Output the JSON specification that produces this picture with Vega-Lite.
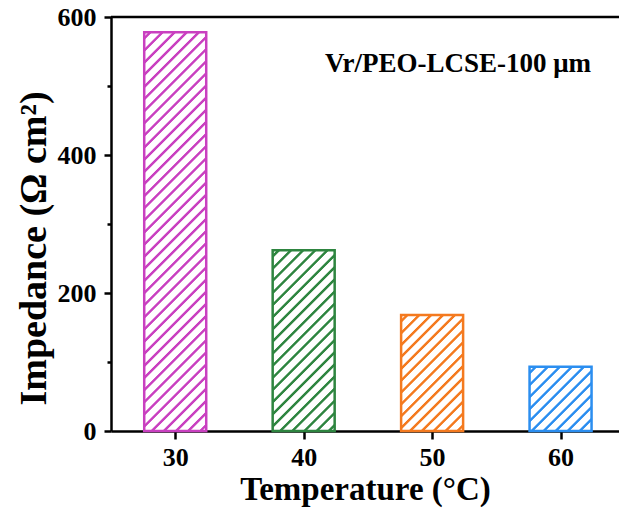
{
  "$schema": "https://vega.github.io/schema/vega-lite/v6.json",
  "width": 508,
  "height": 414,
  "autosize": "none",
  "padding": {"left": 111, "top": 17, "right": 0, "bottom": 84},
  "background": "white",
  "config": {"view": {"stroke": null}, "font": "Liberation Serif"},
  "data": {"values": [
    {"temp": 30, "impedance": 578},
    {"temp": 40, "impedance": 262},
    {"temp": 50, "impedance": 168},
    {"temp": 60, "impedance": 93}
  ]},
  "layer": [
    {
      "transform": [{"filter": "datum.temp == 30"}],
      "mark": {"type": "bar", "orient": "vertical", "width": 62, "stroke": "#C940C0", "strokeWidth": 2.5,
        "fill": {"gradient": "linear", "x1": 0, "y1": 0, "x2": 0.17539, "y2": 1.12818, "stops": [
          {"offset": 0.0085, "color": "#ffffff"}, {"offset": 0.0110, "color": "#C940C0"}, {"offset": 0.0160, "color": "#C940C0"}, {"offset": 0.0185, "color": "#ffffff"},
          {"offset": 0.0348, "color": "#ffffff"}, {"offset": 0.0373, "color": "#C940C0"}, {"offset": 0.0423, "color": "#C940C0"}, {"offset": 0.0448, "color": "#ffffff"},
          {"offset": 0.0611, "color": "#ffffff"}, {"offset": 0.0636, "color": "#C940C0"}, {"offset": 0.0686, "color": "#C940C0"}, {"offset": 0.0711, "color": "#ffffff"},
          {"offset": 0.0874, "color": "#ffffff"}, {"offset": 0.0899, "color": "#C940C0"}, {"offset": 0.0949, "color": "#C940C0"}, {"offset": 0.0974, "color": "#ffffff"},
          {"offset": 0.1138, "color": "#ffffff"}, {"offset": 0.1163, "color": "#C940C0"}, {"offset": 0.1213, "color": "#C940C0"}, {"offset": 0.1238, "color": "#ffffff"},
          {"offset": 0.1401, "color": "#ffffff"}, {"offset": 0.1426, "color": "#C940C0"}, {"offset": 0.1476, "color": "#C940C0"}, {"offset": 0.1501, "color": "#ffffff"},
          {"offset": 0.1664, "color": "#ffffff"}, {"offset": 0.1689, "color": "#C940C0"}, {"offset": 0.1739, "color": "#C940C0"}, {"offset": 0.1764, "color": "#ffffff"},
          {"offset": 0.1927, "color": "#ffffff"}, {"offset": 0.1952, "color": "#C940C0"}, {"offset": 0.2002, "color": "#C940C0"}, {"offset": 0.2027, "color": "#ffffff"},
          {"offset": 0.2190, "color": "#ffffff"}, {"offset": 0.2215, "color": "#C940C0"}, {"offset": 0.2265, "color": "#C940C0"}, {"offset": 0.2290, "color": "#ffffff"},
          {"offset": 0.2453, "color": "#ffffff"}, {"offset": 0.2478, "color": "#C940C0"}, {"offset": 0.2528, "color": "#C940C0"}, {"offset": 0.2553, "color": "#ffffff"},
          {"offset": 0.2717, "color": "#ffffff"}, {"offset": 0.2742, "color": "#C940C0"}, {"offset": 0.2792, "color": "#C940C0"}, {"offset": 0.2817, "color": "#ffffff"},
          {"offset": 0.2980, "color": "#ffffff"}, {"offset": 0.3005, "color": "#C940C0"}, {"offset": 0.3055, "color": "#C940C0"}, {"offset": 0.3080, "color": "#ffffff"},
          {"offset": 0.3243, "color": "#ffffff"}, {"offset": 0.3268, "color": "#C940C0"}, {"offset": 0.3318, "color": "#C940C0"}, {"offset": 0.3343, "color": "#ffffff"},
          {"offset": 0.3506, "color": "#ffffff"}, {"offset": 0.3531, "color": "#C940C0"}, {"offset": 0.3581, "color": "#C940C0"}, {"offset": 0.3606, "color": "#ffffff"},
          {"offset": 0.3769, "color": "#ffffff"}, {"offset": 0.3794, "color": "#C940C0"}, {"offset": 0.3844, "color": "#C940C0"}, {"offset": 0.3869, "color": "#ffffff"},
          {"offset": 0.4032, "color": "#ffffff"}, {"offset": 0.4057, "color": "#C940C0"}, {"offset": 0.4107, "color": "#C940C0"}, {"offset": 0.4132, "color": "#ffffff"},
          {"offset": 0.4296, "color": "#ffffff"}, {"offset": 0.4321, "color": "#C940C0"}, {"offset": 0.4371, "color": "#C940C0"}, {"offset": 0.4396, "color": "#ffffff"},
          {"offset": 0.4559, "color": "#ffffff"}, {"offset": 0.4584, "color": "#C940C0"}, {"offset": 0.4634, "color": "#C940C0"}, {"offset": 0.4659, "color": "#ffffff"},
          {"offset": 0.4822, "color": "#ffffff"}, {"offset": 0.4847, "color": "#C940C0"}, {"offset": 0.4897, "color": "#C940C0"}, {"offset": 0.4922, "color": "#ffffff"},
          {"offset": 0.5085, "color": "#ffffff"}, {"offset": 0.5110, "color": "#C940C0"}, {"offset": 0.5160, "color": "#C940C0"}, {"offset": 0.5185, "color": "#ffffff"},
          {"offset": 0.5348, "color": "#ffffff"}, {"offset": 0.5373, "color": "#C940C0"}, {"offset": 0.5423, "color": "#C940C0"}, {"offset": 0.5448, "color": "#ffffff"},
          {"offset": 0.5611, "color": "#ffffff"}, {"offset": 0.5636, "color": "#C940C0"}, {"offset": 0.5686, "color": "#C940C0"}, {"offset": 0.5711, "color": "#ffffff"},
          {"offset": 0.5874, "color": "#ffffff"}, {"offset": 0.5899, "color": "#C940C0"}, {"offset": 0.5949, "color": "#C940C0"}, {"offset": 0.5974, "color": "#ffffff"},
          {"offset": 0.6138, "color": "#ffffff"}, {"offset": 0.6163, "color": "#C940C0"}, {"offset": 0.6213, "color": "#C940C0"}, {"offset": 0.6238, "color": "#ffffff"},
          {"offset": 0.6401, "color": "#ffffff"}, {"offset": 0.6426, "color": "#C940C0"}, {"offset": 0.6476, "color": "#C940C0"}, {"offset": 0.6501, "color": "#ffffff"},
          {"offset": 0.6664, "color": "#ffffff"}, {"offset": 0.6689, "color": "#C940C0"}, {"offset": 0.6739, "color": "#C940C0"}, {"offset": 0.6764, "color": "#ffffff"},
          {"offset": 0.6927, "color": "#ffffff"}, {"offset": 0.6952, "color": "#C940C0"}, {"offset": 0.7002, "color": "#C940C0"}, {"offset": 0.7027, "color": "#ffffff"},
          {"offset": 0.7190, "color": "#ffffff"}, {"offset": 0.7215, "color": "#C940C0"}, {"offset": 0.7265, "color": "#C940C0"}, {"offset": 0.7290, "color": "#ffffff"},
          {"offset": 0.7453, "color": "#ffffff"}, {"offset": 0.7478, "color": "#C940C0"}, {"offset": 0.7528, "color": "#C940C0"}, {"offset": 0.7553, "color": "#ffffff"},
          {"offset": 0.7717, "color": "#ffffff"}, {"offset": 0.7742, "color": "#C940C0"}, {"offset": 0.7792, "color": "#C940C0"}, {"offset": 0.7817, "color": "#ffffff"},
          {"offset": 0.7980, "color": "#ffffff"}, {"offset": 0.8005, "color": "#C940C0"}, {"offset": 0.8055, "color": "#C940C0"}, {"offset": 0.8080, "color": "#ffffff"},
          {"offset": 0.8243, "color": "#ffffff"}, {"offset": 0.8268, "color": "#C940C0"}, {"offset": 0.8318, "color": "#C940C0"}, {"offset": 0.8343, "color": "#ffffff"},
          {"offset": 0.8506, "color": "#ffffff"}, {"offset": 0.8531, "color": "#C940C0"}, {"offset": 0.8581, "color": "#C940C0"}, {"offset": 0.8606, "color": "#ffffff"},
          {"offset": 0.8769, "color": "#ffffff"}, {"offset": 0.8794, "color": "#C940C0"}, {"offset": 0.8844, "color": "#C940C0"}, {"offset": 0.8869, "color": "#ffffff"},
          {"offset": 0.9032, "color": "#ffffff"}, {"offset": 0.9057, "color": "#C940C0"}, {"offset": 0.9107, "color": "#C940C0"}, {"offset": 0.9132, "color": "#ffffff"},
          {"offset": 0.9296, "color": "#ffffff"}, {"offset": 0.9321, "color": "#C940C0"}, {"offset": 0.9371, "color": "#C940C0"}, {"offset": 0.9396, "color": "#ffffff"},
          {"offset": 0.9559, "color": "#ffffff"}, {"offset": 0.9584, "color": "#C940C0"}, {"offset": 0.9634, "color": "#C940C0"}, {"offset": 0.9659, "color": "#ffffff"},
          {"offset": 0.9822, "color": "#ffffff"}, {"offset": 0.9847, "color": "#C940C0"}, {"offset": 0.9897, "color": "#C940C0"}, {"offset": 0.9922, "color": "#ffffff"}
        ]}},
      "encoding": {
        "x": {"field": "temp", "type": "quantitative",
          "scale": {"domain": [25, 64.55], "nice": false, "zero": false, "padding": 0},
          "axis": {"values": [30, 40, 50, 60], "title": "Temperature (°C)", "grid": false,
            "domainColor": "black", "domainWidth": 2.5, "tickColor": "black", "tickWidth": 2.5, "tickSize": 8,
            "labelFont": "Liberation Serif", "labelFontSize": 26, "labelFontWeight": "bold", "labelColor": "black",
            "labelPadding": 5, "labelFlush": false, "labelOverlap": false,
            "titleFont": "Liberation Serif", "titleFontSize": 33, "titleFontWeight": "bold", "titleColor": "black",
            "titleY": 68, "titleBaseline": "alphabetic"}},
        "y": {"field": "impedance", "type": "quantitative",
          "scale": {"domain": [0, 600], "nice": false},
          "axis": {"values": [0, 100, 200, 300, 400, 500, 600], "title": "Impedance (Ω cm²)", "grid": false,
            "labelExpr": "datum.value % 200 === 0 ? datum.label : ''",
            "domainColor": "black", "domainWidth": 2.5, "tickColor": "black", "tickWidth": 2.5,
            "tickSize": {"condition": {"test": "datum.value % 200 === 0", "value": 7}, "value": 4},
            "labelFont": "Liberation Serif", "labelFontSize": 26, "labelFontWeight": "bold", "labelColor": "black",
            "labelPadding": 8, "labelOverlap": false, "labelFlush": false,
            "titleFont": "Liberation Serif", "titleFontSize": 38, "titleFontWeight": "bold", "titleColor": "black",
            "titleX": -66, "titleY": 231, "titleAlign": "center", "titleBaseline": "alphabetic", "titleAngle": -90}}
      }
    },
    {
      "transform": [{"filter": "datum.temp == 40"}],
      "mark": {"type": "bar", "orient": "vertical", "width": 62, "stroke": "#2E8540", "strokeWidth": 2.5,
        "fill": {"gradient": "linear", "x1": 0, "y1": 0, "x2": 0.41211, "y2": 1.20163, "stops": [
          {"offset": 0.0161, "color": "#ffffff"}, {"offset": 0.0209, "color": "#2E8540"}, {"offset": 0.0304, "color": "#2E8540"}, {"offset": 0.0351, "color": "#ffffff"},
          {"offset": 0.0661, "color": "#ffffff"}, {"offset": 0.0709, "color": "#2E8540"}, {"offset": 0.0804, "color": "#2E8540"}, {"offset": 0.0851, "color": "#ffffff"},
          {"offset": 0.1161, "color": "#ffffff"}, {"offset": 0.1209, "color": "#2E8540"}, {"offset": 0.1304, "color": "#2E8540"}, {"offset": 0.1351, "color": "#ffffff"},
          {"offset": 0.1661, "color": "#ffffff"}, {"offset": 0.1709, "color": "#2E8540"}, {"offset": 0.1804, "color": "#2E8540"}, {"offset": 0.1851, "color": "#ffffff"},
          {"offset": 0.2161, "color": "#ffffff"}, {"offset": 0.2209, "color": "#2E8540"}, {"offset": 0.2304, "color": "#2E8540"}, {"offset": 0.2351, "color": "#ffffff"},
          {"offset": 0.2661, "color": "#ffffff"}, {"offset": 0.2709, "color": "#2E8540"}, {"offset": 0.2804, "color": "#2E8540"}, {"offset": 0.2851, "color": "#ffffff"},
          {"offset": 0.3161, "color": "#ffffff"}, {"offset": 0.3209, "color": "#2E8540"}, {"offset": 0.3304, "color": "#2E8540"}, {"offset": 0.3351, "color": "#ffffff"},
          {"offset": 0.3661, "color": "#ffffff"}, {"offset": 0.3709, "color": "#2E8540"}, {"offset": 0.3804, "color": "#2E8540"}, {"offset": 0.3851, "color": "#ffffff"},
          {"offset": 0.4161, "color": "#ffffff"}, {"offset": 0.4209, "color": "#2E8540"}, {"offset": 0.4304, "color": "#2E8540"}, {"offset": 0.4351, "color": "#ffffff"},
          {"offset": 0.4661, "color": "#ffffff"}, {"offset": 0.4709, "color": "#2E8540"}, {"offset": 0.4804, "color": "#2E8540"}, {"offset": 0.4851, "color": "#ffffff"},
          {"offset": 0.5161, "color": "#ffffff"}, {"offset": 0.5209, "color": "#2E8540"}, {"offset": 0.5304, "color": "#2E8540"}, {"offset": 0.5351, "color": "#ffffff"},
          {"offset": 0.5661, "color": "#ffffff"}, {"offset": 0.5709, "color": "#2E8540"}, {"offset": 0.5804, "color": "#2E8540"}, {"offset": 0.5851, "color": "#ffffff"},
          {"offset": 0.6161, "color": "#ffffff"}, {"offset": 0.6209, "color": "#2E8540"}, {"offset": 0.6304, "color": "#2E8540"}, {"offset": 0.6351, "color": "#ffffff"},
          {"offset": 0.6661, "color": "#ffffff"}, {"offset": 0.6709, "color": "#2E8540"}, {"offset": 0.6804, "color": "#2E8540"}, {"offset": 0.6851, "color": "#ffffff"},
          {"offset": 0.7161, "color": "#ffffff"}, {"offset": 0.7209, "color": "#2E8540"}, {"offset": 0.7304, "color": "#2E8540"}, {"offset": 0.7351, "color": "#ffffff"},
          {"offset": 0.7661, "color": "#ffffff"}, {"offset": 0.7709, "color": "#2E8540"}, {"offset": 0.7804, "color": "#2E8540"}, {"offset": 0.7851, "color": "#ffffff"},
          {"offset": 0.8161, "color": "#ffffff"}, {"offset": 0.8209, "color": "#2E8540"}, {"offset": 0.8304, "color": "#2E8540"}, {"offset": 0.8351, "color": "#ffffff"},
          {"offset": 0.8661, "color": "#ffffff"}, {"offset": 0.8709, "color": "#2E8540"}, {"offset": 0.8804, "color": "#2E8540"}, {"offset": 0.8851, "color": "#ffffff"},
          {"offset": 0.9161, "color": "#ffffff"}, {"offset": 0.9209, "color": "#2E8540"}, {"offset": 0.9304, "color": "#2E8540"}, {"offset": 0.9351, "color": "#ffffff"},
          {"offset": 0.9661, "color": "#ffffff"}, {"offset": 0.9709, "color": "#2E8540"}, {"offset": 0.9804, "color": "#2E8540"}, {"offset": 0.9851, "color": "#ffffff"}
        ]}},
      "encoding": {
        "x": {"field": "temp", "type": "quantitative"},
        "y": {"field": "impedance", "type": "quantitative"}
      }
    },
    {
      "transform": [{"filter": "datum.temp == 50"}],
      "mark": {"type": "bar", "orient": "vertical", "width": 62, "stroke": "#F47A1F", "strokeWidth": 2.5,
        "fill": {"gradient": "linear", "x1": 0, "y1": 0, "x2": 0.63831, "y2": 1.19342, "stops": [
          {"offset": 0.0220, "color": "#ffffff"}, {"offset": 0.0285, "color": "#F47A1F"}, {"offset": 0.0414, "color": "#F47A1F"}, {"offset": 0.0479, "color": "#ffffff"},
          {"offset": 0.0887, "color": "#ffffff"}, {"offset": 0.0951, "color": "#F47A1F"}, {"offset": 0.1081, "color": "#F47A1F"}, {"offset": 0.1146, "color": "#ffffff"},
          {"offset": 0.1554, "color": "#ffffff"}, {"offset": 0.1618, "color": "#F47A1F"}, {"offset": 0.1747, "color": "#F47A1F"}, {"offset": 0.1813, "color": "#ffffff"},
          {"offset": 0.2220, "color": "#ffffff"}, {"offset": 0.2285, "color": "#F47A1F"}, {"offset": 0.2414, "color": "#F47A1F"}, {"offset": 0.2479, "color": "#ffffff"},
          {"offset": 0.2887, "color": "#ffffff"}, {"offset": 0.2951, "color": "#F47A1F"}, {"offset": 0.3081, "color": "#F47A1F"}, {"offset": 0.3146, "color": "#ffffff"},
          {"offset": 0.3554, "color": "#ffffff"}, {"offset": 0.3618, "color": "#F47A1F"}, {"offset": 0.3747, "color": "#F47A1F"}, {"offset": 0.3813, "color": "#ffffff"},
          {"offset": 0.4220, "color": "#ffffff"}, {"offset": 0.4285, "color": "#F47A1F"}, {"offset": 0.4414, "color": "#F47A1F"}, {"offset": 0.4479, "color": "#ffffff"},
          {"offset": 0.4887, "color": "#ffffff"}, {"offset": 0.4951, "color": "#F47A1F"}, {"offset": 0.5081, "color": "#F47A1F"}, {"offset": 0.5146, "color": "#ffffff"},
          {"offset": 0.5554, "color": "#ffffff"}, {"offset": 0.5618, "color": "#F47A1F"}, {"offset": 0.5747, "color": "#F47A1F"}, {"offset": 0.5813, "color": "#ffffff"},
          {"offset": 0.6220, "color": "#ffffff"}, {"offset": 0.6285, "color": "#F47A1F"}, {"offset": 0.6414, "color": "#F47A1F"}, {"offset": 0.6479, "color": "#ffffff"},
          {"offset": 0.6887, "color": "#ffffff"}, {"offset": 0.6951, "color": "#F47A1F"}, {"offset": 0.7081, "color": "#F47A1F"}, {"offset": 0.7146, "color": "#ffffff"},
          {"offset": 0.7554, "color": "#ffffff"}, {"offset": 0.7618, "color": "#F47A1F"}, {"offset": 0.7747, "color": "#F47A1F"}, {"offset": 0.7813, "color": "#ffffff"},
          {"offset": 0.8220, "color": "#ffffff"}, {"offset": 0.8285, "color": "#F47A1F"}, {"offset": 0.8414, "color": "#F47A1F"}, {"offset": 0.8479, "color": "#ffffff"},
          {"offset": 0.8887, "color": "#ffffff"}, {"offset": 0.8951, "color": "#F47A1F"}, {"offset": 0.9081, "color": "#F47A1F"}, {"offset": 0.9146, "color": "#ffffff"},
          {"offset": 0.9554, "color": "#ffffff"}, {"offset": 0.9618, "color": "#F47A1F"}, {"offset": 0.9747, "color": "#F47A1F"}, {"offset": 0.9813, "color": "#ffffff"}
        ]}},
      "encoding": {
        "x": {"field": "temp", "type": "quantitative"},
        "y": {"field": "impedance", "type": "quantitative"}
      }
    },
    {
      "transform": [{"filter": "datum.temp == 60"}],
      "mark": {"type": "bar", "orient": "vertical", "width": 62, "stroke": "#2B8EF0", "strokeWidth": 2.5,
        "fill": {"gradient": "linear", "x1": 0, "y1": 0, "x2": 0.98251, "y2": 1.0169, "stops": [
          {"offset": 0.0311, "color": "#ffffff"}, {"offset": 0.0401, "color": "#2B8EF0"}, {"offset": 0.0584, "color": "#2B8EF0"}, {"offset": 0.0676, "color": "#ffffff"},
          {"offset": 0.1263, "color": "#ffffff"}, {"offset": 0.1354, "color": "#2B8EF0"}, {"offset": 0.1536, "color": "#2B8EF0"}, {"offset": 0.1628, "color": "#ffffff"},
          {"offset": 0.2215, "color": "#ffffff"}, {"offset": 0.2306, "color": "#2B8EF0"}, {"offset": 0.2489, "color": "#2B8EF0"}, {"offset": 0.2581, "color": "#ffffff"},
          {"offset": 0.3168, "color": "#ffffff"}, {"offset": 0.3258, "color": "#2B8EF0"}, {"offset": 0.3441, "color": "#2B8EF0"}, {"offset": 0.3533, "color": "#ffffff"},
          {"offset": 0.4120, "color": "#ffffff"}, {"offset": 0.4211, "color": "#2B8EF0"}, {"offset": 0.4394, "color": "#2B8EF0"}, {"offset": 0.4485, "color": "#ffffff"},
          {"offset": 0.5072, "color": "#ffffff"}, {"offset": 0.5163, "color": "#2B8EF0"}, {"offset": 0.5346, "color": "#2B8EF0"}, {"offset": 0.5438, "color": "#ffffff"},
          {"offset": 0.6025, "color": "#ffffff"}, {"offset": 0.6116, "color": "#2B8EF0"}, {"offset": 0.6298, "color": "#2B8EF0"}, {"offset": 0.6390, "color": "#ffffff"},
          {"offset": 0.6977, "color": "#ffffff"}, {"offset": 0.7068, "color": "#2B8EF0"}, {"offset": 0.7251, "color": "#2B8EF0"}, {"offset": 0.7343, "color": "#ffffff"},
          {"offset": 0.7930, "color": "#ffffff"}, {"offset": 0.8020, "color": "#2B8EF0"}, {"offset": 0.8203, "color": "#2B8EF0"}, {"offset": 0.8295, "color": "#ffffff"},
          {"offset": 0.8882, "color": "#ffffff"}, {"offset": 0.8973, "color": "#2B8EF0"}, {"offset": 0.9155, "color": "#2B8EF0"}, {"offset": 0.9247, "color": "#ffffff"}
        ]}},
      "encoding": {
        "x": {"field": "temp", "type": "quantitative"},
        "y": {"field": "impedance", "type": "quantitative"}
      }
    },
    {
      "data": {"values": [{}]},
      "mark": {"type": "rule", "color": "black", "strokeWidth": 2.5},
      "encoding": {"y": {"datum": 600, "type": "quantitative"}}
    },
    {
      "data": {"values": [{}]},
      "mark": {"type": "text", "text": "Vr/PEO-LCSE-100 μm", "font": "Liberation Serif", "fontSize": 27, "fontWeight": "bold", "color": "black", "align": "left", "baseline": "alphabetic"},
      "encoding": {
        "x": {"datum": 41.66, "type": "quantitative"},
        "y": {"datum": 520.3, "type": "quantitative"}
      }
    }
  ]
}
